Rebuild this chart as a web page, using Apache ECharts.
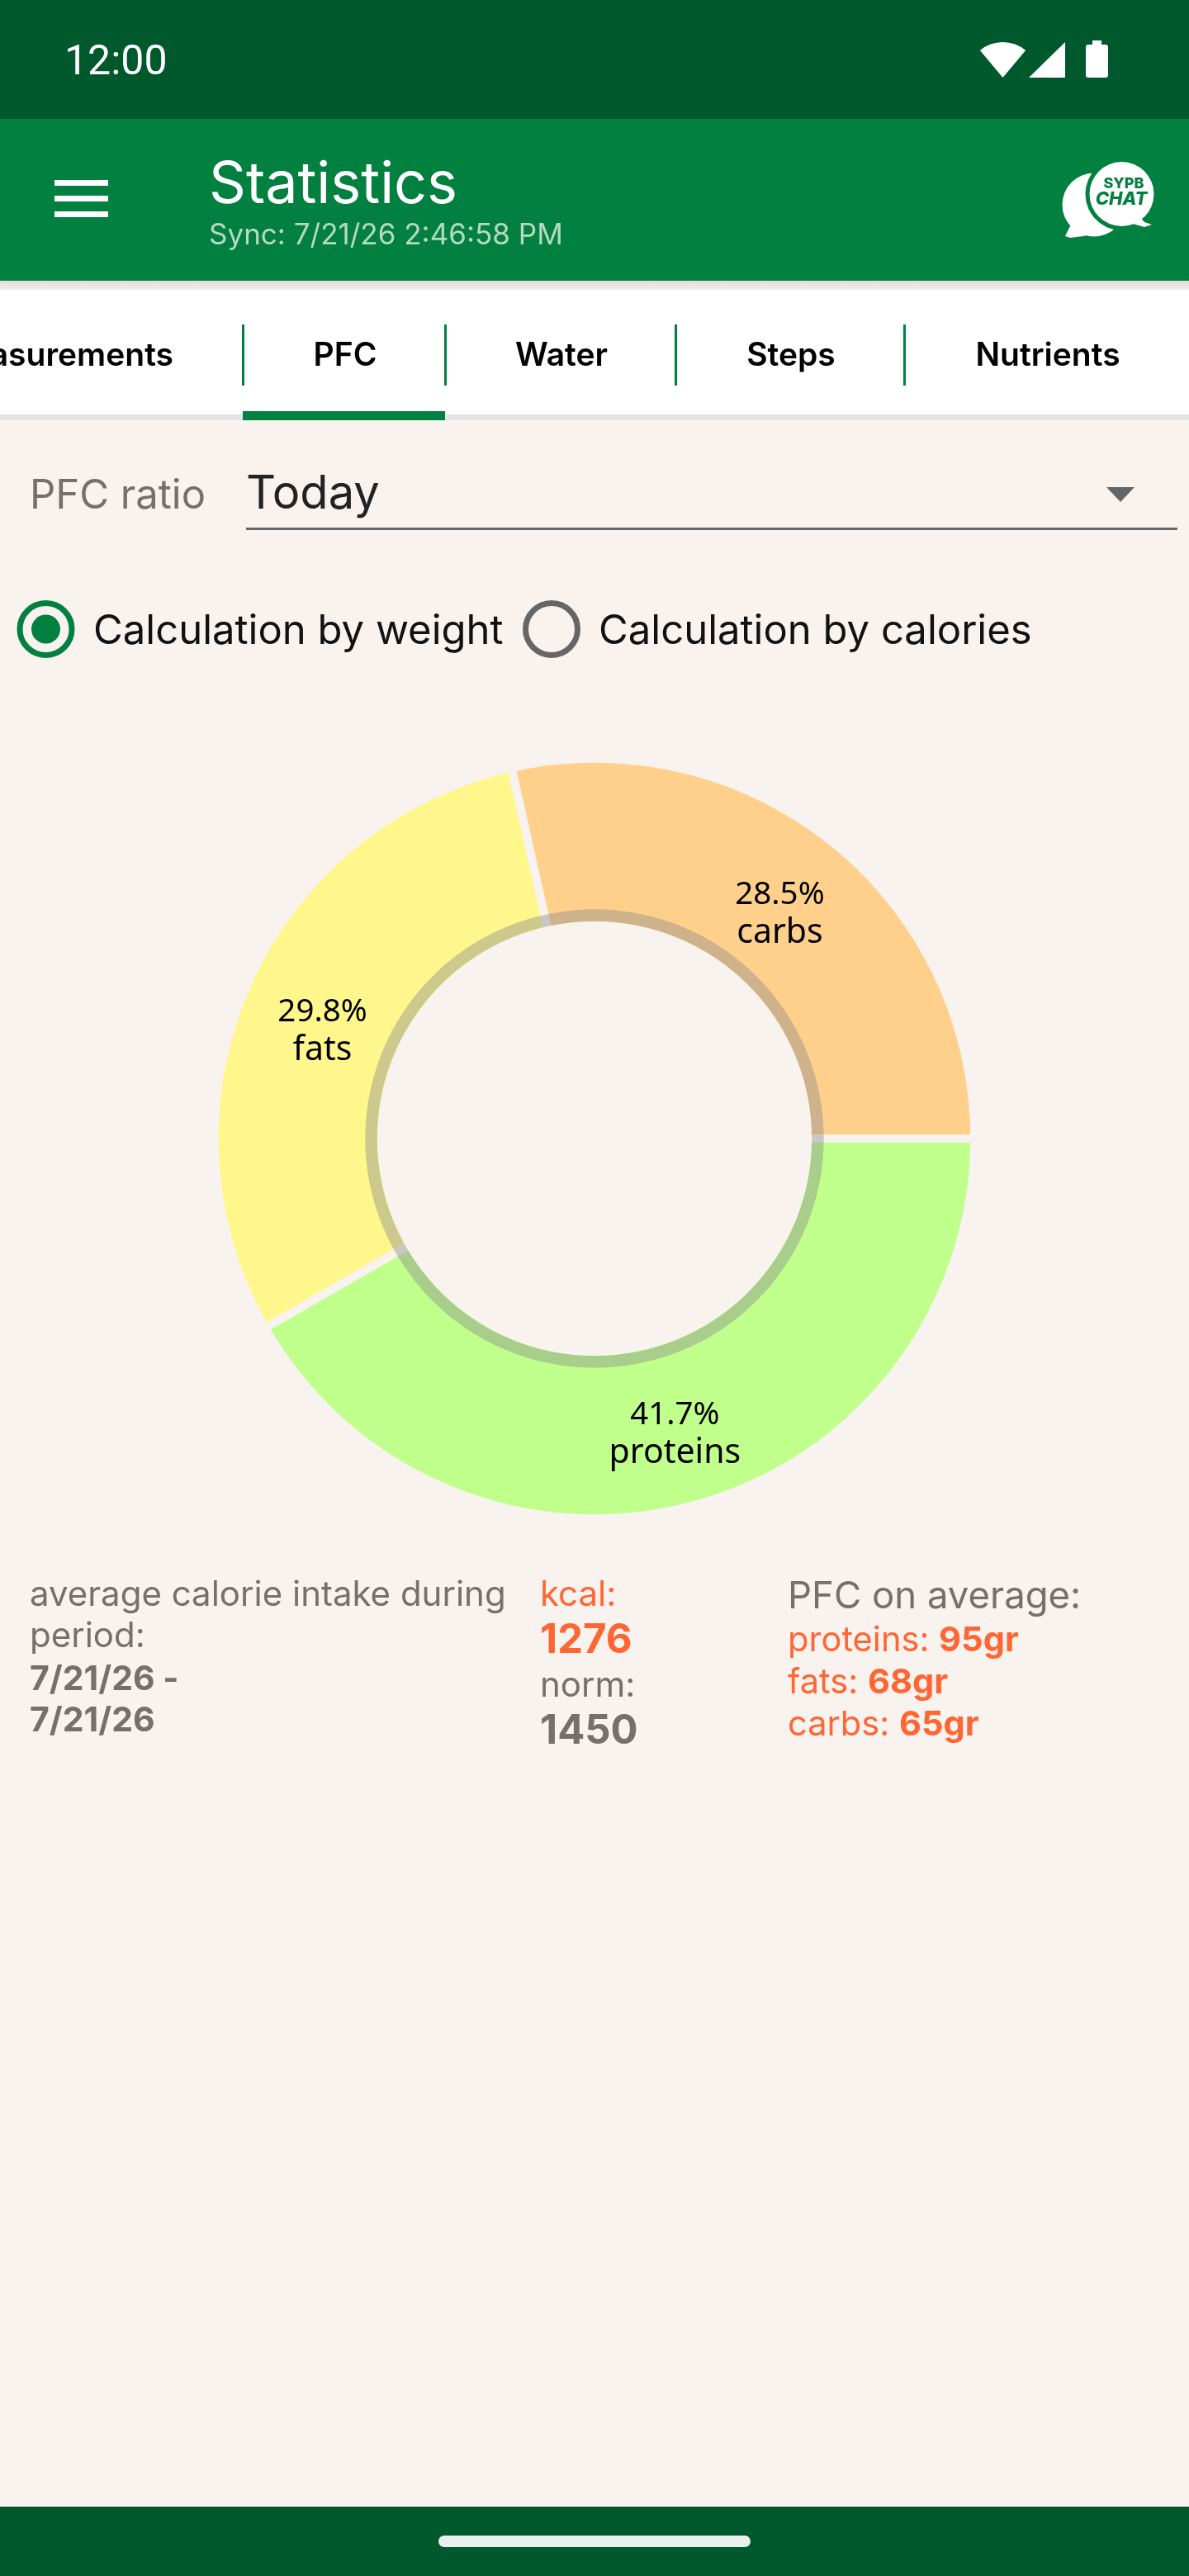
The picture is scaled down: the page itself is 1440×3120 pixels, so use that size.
<!DOCTYPE html>
<html>
<head>
<meta charset="utf-8">
<title>Statistics</title>
<script src="https://cdn.jsdelivr.net/npm/echarts@6/dist/echarts.min.js"></script>
<style>
html, body { margin: 0; padding: 0; background: #f8f3ef; }
#chart { width: 1440px; height: 3120px; }
</style>
</head>
<body>
<div id="chart"></div>
<script>
const categories = ['proteins', 'fats', 'carbs'];
const shares = [41.7, 29.8, 28.5];
const grams = [95, 68, 65];
const sliceColors = ['#c0ff8c', '#fff78c', '#ffd08c'];
const kcal = 1276;
const norm = 1450;
const period = ['7/21/26 -', '7/21/26'];
const tabs = [['PFC', 418], ['Water', 680], ['Steps', 958], ['Nutrients', 1269]];
const dividers = [293, 538, 817, 1094];

const GREEN = '#02803f';
const DARK = '#00582d';
const GREY = '#75706c';
const ORANGE = '#ff6633';
const BG = '#f8f3ef';

// the labels sit a little off the middle of each slice in the original
const labelNudge = [[4, 8], [2, 16], [-2, 11]];

function label(x, base, str, size, color, weight, opts) {
    opts = opts || {};
    let family = opts.family || 'Inter';
    return {
        type: 'text',
        x: x,
        y: base - size * (opts.mid || 0.3),
        style: {
            text: str,
            fill: color,
            font: (opts.italic ? 'italic ' : '') + (weight || 400) + ' ' + size + 'px "' + family + '"',
            align: opts.align || 'left',
            verticalAlign: 'middle',
            rich: opts.rich
        }
    };
}
function box(x, y, w, h, color, r) {
    return { type: 'rect', shape: { x: x, y: y, width: w, height: h, r: r || 0 }, style: { fill: color } };
}
function disc(cx, cy, r, fill, stroke, lw) {
    return { type: 'circle', shape: { cx: cx, cy: cy, r: r }, style: { fill: fill, stroke: stroke, lineWidth: lw || 0 } };
}
function poly(points, color) {
    return { type: 'polygon', shape: { points: points }, style: { fill: color } };
}

const shadow = new echarts.graphic.LinearGradient(0, 0, 0, 1, [
    { offset: 0, color: '#e4ded9' },
    { offset: 1, color: '#f1ecea' }
]);

let chrome = [
    // status bar
    box(0, 0, 1440, 144, DARK),
    label(78, 91, '12:00', 50, '#ffffff', 400, { family: 'Roboto', mid: 0.28 }),
    {
        type: 'sector',
        shape: { cx: 1214.5, cy: 94, r: 43, r0: 0, startAngle: 230 * Math.PI / 180, endAngle: 310 * Math.PI / 180, clockwise: true },
        style: { fill: '#ffffff' }
    },
    poly([[1246, 94], [1290, 51], [1290, 94]], '#ffffff'),
    box(1315, 54, 27, 40, '#ffffff', 3),
    box(1323, 49, 11, 6, '#ffffff'),

    // app bar
    box(0, 144, 1440, 196, GREEN),
    box(66, 218, 65, 7, '#ffffff'),
    box(66, 237, 65, 7, '#ffffff'),
    box(66, 256, 65, 7, '#ffffff'),
    label(253, 246, 'Statistics', 70, '#ffffff', 400),
    label(253, 296, 'Sync: 7/21/26 2:46:58 PM', 35, '#b5d9c4', 400),

    // chat icon
    disc(1325, 248, 38.5, '#ffffff'),
    poly([[1297, 272], [1290, 286], [1296, 288], [1312, 286], [1345, 278], [1320, 270]], '#ffffff'),
    disc(1358.5, 235, 44, GREEN),
    disc(1358.5, 235, 39, '#ffffff'),
    poly([[1380, 262], [1386, 269], [1395, 272], [1386, 275], [1372, 271]], '#ffffff'),
    label(1361, 228, 'SYPB', 18, GREEN, 800, { align: 'center' }),
    label(1358, 248, 'CHAT', 22, GREEN, 800, { align: 'center', italic: true }),

    // tab bar
    { type: 'rect', shape: { x: 0, y: 340, width: 1440, height: 11 }, style: { fill: shadow } },
    box(0, 351, 1440, 151, '#ffffff'),
    box(0, 502, 1440, 7, '#e4e4e4'),
    box(294, 498, 245, 11, GREEN),
    label(210, 443, 'Measurements', 39, '#000000', 600, { align: 'right' })
];
for (let t of tabs) {
    chrome.push(label(t[1], 443, t[0], 39, '#000000', 600, { align: 'center' }));
}
for (let d of dividers) {
    chrome.push(box(d, 393, 3, 74, GREEN));
}

chrome = chrome.concat([
    // period selector
    label(36, 616, 'PFC ratio', 49, GREY, 400),
    label(298, 616, 'Today', 56, '#222222', 400),
    box(298, 639, 1128, 3, '#666666'),
    poly([[1340, 590], [1374, 590], [1357, 608]], '#666666'),

    // radio buttons
    disc(55.5, 762, 31.5, 'none', GREEN, 7),
    disc(55.5, 762, 17.5, GREEN),
    label(113, 780, 'Calculation by weight', 49, '#111111', 400),
    disc(668, 762, 31.5, 'none', '#666666', 7),
    label(725, 780, 'Calculation by calories', 49, '#111111', 400),

    // summary, left column
    label(36, 1945, 'average calorie intake during', 42, GREY, 400),
    label(36, 1995, 'period:', 42, GREY, 400),
    label(36, 2047, period[0], 41, GREY, 700),
    label(36, 2097, period[1], 41, GREY, 700),

    // summary, middle column
    label(654, 1945, 'kcal:', 42, ORANGE, 400),
    label(654, 2002, String(kcal), 49, ORANGE, 700),
    label(654, 2055, 'norm:', 42, GREY, 400),
    label(654, 2112, String(norm), 49, GREY, 700),

    // summary, right column
    label(954, 1948, 'PFC on average:', 45.5, GREY, 400)
]);
const gramBase = [2000, 2051, 2102];
categories.forEach(function (name, i) {
    chrome.push(label(954, gramBase[i], '{a|' + name + ': }{b|' + grams[i] + 'gr}', 41.6, ORANGE, 400, {
        rich: {
            a: { fill: ORANGE, font: '400 41.6px "Inter"' },
            b: { fill: ORANGE, font: '700 41.6px "Inter"' }
        }
    }));
});

// navigation bar
chrome.push(box(0, 3036, 1440, 84, DARK));
chrome.push(box(531, 3071, 378, 14, '#eaf1ec', 7));

let option = {
    backgroundColor: BG,
    animation: false,
    graphic: { elements: chrome },
    series: [
        {
            type: 'pie',
            silent: true,
            center: [720, 1379],
            radius: [258, 460.3],
            startAngle: 0,
            clockwise: true,
            data: categories.map(function (name, i) {
                return {
                    name: name,
                    value: shares[i],
                    itemStyle: { color: sliceColors[i] },
                    label: { offset: labelNudge[i] }
                };
            }),
            itemStyle: { borderColor: BG, borderWidth: 10 },
            label: {
                show: true,
                position: 'inside',
                formatter: '{p|{c}%}\n{n|{b}}',
                rich: {
                    p: { fontFamily: 'Noto Sans', fontSize: 38.5, lineHeight: 46, color: '#000000' },
                    n: { fontFamily: 'Noto Sans', fontSize: 41, lineHeight: 46, color: '#000000' }
                }
            },
            labelLine: { show: false }
        },
        {
            type: 'pie',
            silent: true,
            center: [720, 1379],
            radius: [263.3, 277.7],
            startAngle: 0,
            data: [{ value: 1, itemStyle: { color: 'rgba(140,140,140,0.43)' } }],
            label: { show: false },
            labelLine: { show: false }
        }
    ]
};

let myChart = echarts.init(document.getElementById('chart'));
myChart.setOption(option);
</script>
</body>
</html>
